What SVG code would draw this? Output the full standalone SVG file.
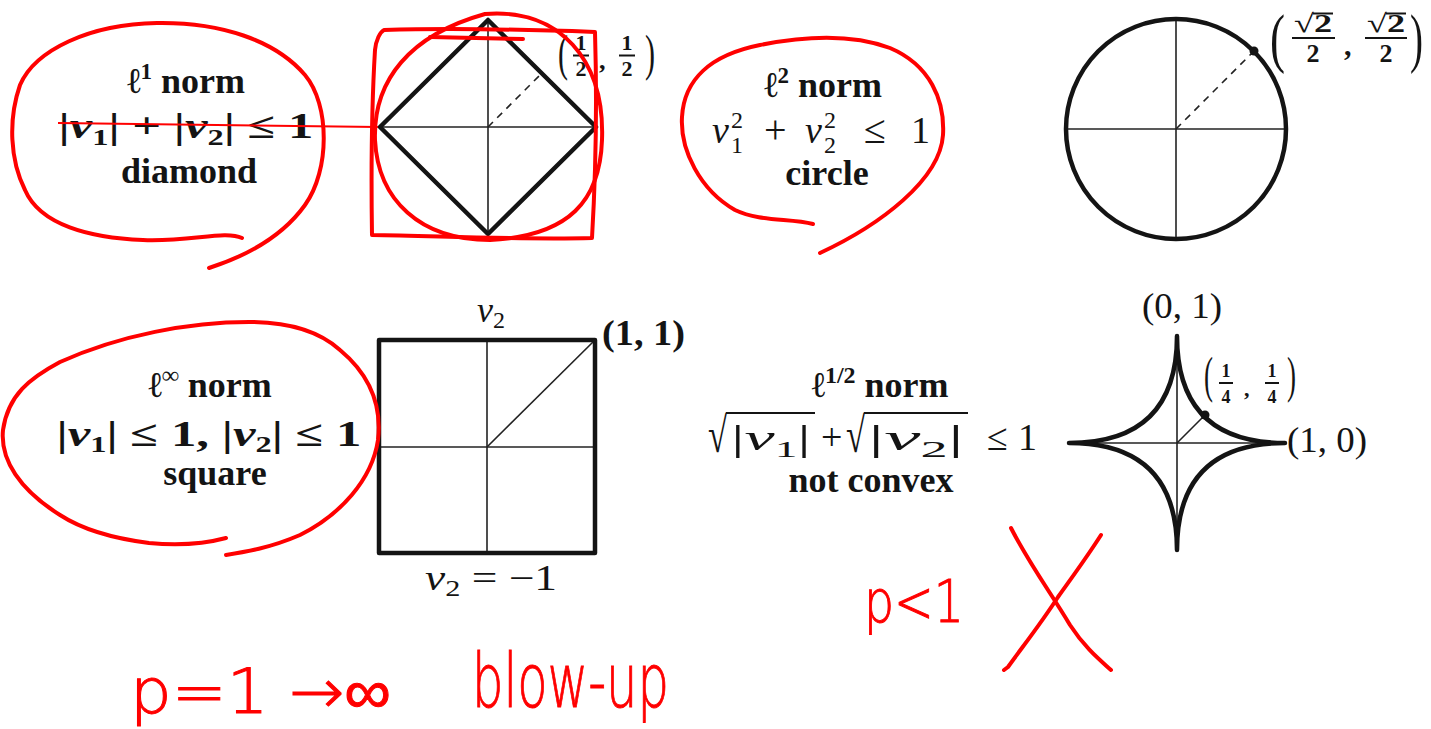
<svg xmlns="http://www.w3.org/2000/svg" width="1431" height="729" viewBox="0 0 1431 729">
<style>
.t{font-family:"Liberation Serif","DejaVu Serif",serif;fill:#141414}
.b{font-weight:bold}
.i{font-style:italic}
.hw{font-family:"DejaVu Sans ExtraLight","DejaVu Sans","Liberation Sans",sans-serif;font-weight:200;fill:#f00;stroke:#f00;stroke-width:1}
.red{fill:none;stroke:#f00;stroke-width:4;stroke-linecap:round;stroke-linejoin:round}
.thick{fill:none;stroke:#141414;stroke-width:4.5;stroke-linejoin:round}
.thin{fill:none;stroke:#222;stroke-width:1.6}
.dash{fill:none;stroke:#222;stroke-width:1.6;stroke-dasharray:7 6}
.bar{stroke:#141414;stroke-width:2}
</style>
<rect width="1431" height="729" fill="#fff"/>

<!-- l1 norm label -->
<g id="l1-label">
<text class="t b" x="186" y="93" text-anchor="middle" font-size="36">ℓ<tspan font-size="23" dy="-14">1</tspan><tspan dy="14"> norm</tspan></text>
<text class="t b" x="186" y="138" text-anchor="middle" font-size="36" textLength="255" lengthAdjust="spacingAndGlyphs">|<tspan class="i">v</tspan><tspan font-size="23" dy="7">1</tspan><tspan dy="-7">| + |</tspan><tspan class="i">v</tspan><tspan font-size="23" dy="7">2</tspan><tspan dy="-7">| ≤ 1</tspan></text>
<text class="t b" x="189" y="183" text-anchor="middle" font-size="36">diamond</text>
</g>

<!-- diamond -->
<g id="l1-diamond">
<line class="thin" x1="380" y1="127" x2="596" y2="127"/>
<line class="thin" x1="488" y1="20" x2="488" y2="234"/>
<line class="dash" x1="488" y1="127" x2="542" y2="73"/>
<polygon class="thick" points="380,127 488,20 596,127 488,234"/>
<text class="t" x="558" y="70" font-size="50" textLength="10" lengthAdjust="spacingAndGlyphs">(</text>
<text class="t b" x="581" y="50" font-size="22" text-anchor="middle">1</text>
<line class="bar" x1="573" y1="55.5" x2="589" y2="55.5"/>
<text class="t b" x="581" y="76" font-size="22" text-anchor="middle">2</text>
<text class="t b" x="599" y="69" font-size="26">,</text>
<text class="t b" x="627" y="50" font-size="22" text-anchor="middle">1</text>
<line class="bar" x1="619" y1="55.5" x2="635" y2="55.5"/>
<text class="t b" x="627" y="76" font-size="22" text-anchor="middle">2</text>
<text class="t" x="645" y="70" font-size="50" textLength="10" lengthAdjust="spacingAndGlyphs">)</text>
</g>

<!-- l2 norm label -->
<g id="l2-label">
<text class="t b" x="823" y="97" text-anchor="middle" font-size="36">ℓ<tspan font-size="23" dy="-14">2</tspan><tspan dy="14"> norm</tspan></text>
<text class="t i" x="712" y="143" font-size="38">v</text>
<text class="t" x="731" y="128" font-size="24">2</text>
<text class="t" x="731" y="153" font-size="24">1</text>
<text class="t" x="764" y="143" font-size="40">+</text>
<text class="t i" x="805" y="143" font-size="38">v</text>
<text class="t" x="824" y="128" font-size="24">2</text>
<text class="t" x="824" y="153" font-size="24">2</text>
<text class="t" x="864" y="143" font-size="40">≤</text>
<text class="t" x="911" y="143" font-size="38">1</text>
<text class="t b" x="827" y="185" text-anchor="middle" font-size="36">circle</text>
</g>

<!-- circle -->
<g id="l2-circle">
<line class="thin" x1="1066" y1="129" x2="1286" y2="129"/>
<line class="thin" x1="1176" y1="19" x2="1176" y2="239"/>
<line class="dash" x1="1176" y1="129" x2="1254" y2="51"/>
<circle class="thick" cx="1176" cy="129" r="110"/>
<circle cx="1254" cy="51" r="4.5" fill="#141414"/>
<text class="t" x="1270" y="60" font-size="66" textLength="15" lengthAdjust="spacingAndGlyphs">(</text>
<text class="t b" x="1313" y="32" font-size="26" text-anchor="middle" textLength="38" lengthAdjust="spacingAndGlyphs">√2</text>
<line class="bar" x1="1313" y1="13.5" x2="1333" y2="13.5"/>
<line class="bar" x1="1292" y1="38" x2="1335" y2="38" stroke-width="2.4"/>
<text class="t b" x="1313" y="62" font-size="26" text-anchor="middle">2</text>
<text class="t b" x="1344" y="55" font-size="30">,</text>
<text class="t b" x="1386" y="32" font-size="26" text-anchor="middle" textLength="38" lengthAdjust="spacingAndGlyphs">√2</text>
<line class="bar" x1="1386" y1="13.5" x2="1406" y2="13.5"/>
<line class="bar" x1="1365" y1="38" x2="1407" y2="38" stroke-width="2.4"/>
<text class="t b" x="1386" y="62" font-size="26" text-anchor="middle">2</text>
<text class="t" x="1410" y="60" font-size="66" textLength="13" lengthAdjust="spacingAndGlyphs">)</text>
</g>

<!-- l-infinity label -->
<g id="linf-label">
<text class="t b" x="210" y="397" text-anchor="middle" font-size="36">ℓ<tspan font-size="24" dy="-14">∞</tspan><tspan dy="14"> norm</tspan></text>
<text class="t b" x="209" y="446" text-anchor="middle" font-size="36" textLength="305" lengthAdjust="spacingAndGlyphs">|<tspan class="i">v</tspan><tspan font-size="23" dy="6">1</tspan><tspan dy="-6">| ≤ 1, |</tspan><tspan class="i">v</tspan><tspan font-size="23" dy="6">2</tspan><tspan dy="-6">| ≤ 1</tspan></text>
<text class="t b" x="215" y="485" text-anchor="middle" font-size="36">square</text>
</g>

<!-- square -->
<g id="linf-square">
<line class="thin" x1="379" y1="447" x2="595" y2="447"/>
<line class="thin" x1="487" y1="340" x2="487" y2="553"/>
<line class="thin" x1="487" y1="447" x2="595" y2="340"/>
<rect class="thick" x="379" y="340" width="216" height="213"/>
<text class="t i" x="477" y="322" font-size="36">v<tspan class="t" font-style="normal" font-size="24" dy="6">2</tspan></text>
<text class="t b" x="602" y="345" font-size="36" textLength="83" lengthAdjust="spacingAndGlyphs">(1, 1)</text>
<text class="t" x="425" y="590" font-size="36" textLength="132" lengthAdjust="spacingAndGlyphs"><tspan font-style="italic">v</tspan><tspan font-size="24" dy="6">2</tspan><tspan dy="-6"> = −1</tspan></text>
</g>

<!-- l 1/2 label -->
<g id="lhalf-label">
<text class="t b" x="880" y="397" text-anchor="middle" font-size="36">ℓ<tspan font-size="24" dy="-14">1/2</tspan><tspan dy="14"> norm</tspan></text>
<text class="t" x="708" y="452" font-size="50" textLength="19" lengthAdjust="spacingAndGlyphs">√</text>
<line class="bar" x1="726" y1="413" x2="815" y2="413" stroke-width="1.8"/>
<text class="t" x="731" y="450" font-size="36" textLength="80" lengthAdjust="spacingAndGlyphs">|<tspan font-style="italic">v</tspan><tspan font-size="24" dy="7">1</tspan><tspan dy="-7">|</tspan></text>
<text class="t" x="821" y="450" font-size="38">+</text>
<text class="t" x="846" y="452" font-size="50" textLength="19" lengthAdjust="spacingAndGlyphs">√</text>
<line class="bar" x1="864" y1="413" x2="968" y2="413" stroke-width="1.8"/>
<text class="t" x="868" y="450" font-size="36" textLength="96" lengthAdjust="spacingAndGlyphs">|<tspan font-style="italic">v</tspan><tspan font-size="24" dy="7">2</tspan><tspan dy="-7">|</tspan></text>
<text class="t" x="987" y="450" font-size="38">≤</text>
<text class="t" x="1018" y="450" font-size="38">1</text>
<text class="t b" x="871" y="492" text-anchor="middle" font-size="36">not convex</text>
</g>

<!-- astroid-like curve -->
<g id="lhalf-astroid">
<line class="thin" x1="1069" y1="443" x2="1285" y2="443"/>
<line class="thin" x1="1177" y1="336" x2="1177" y2="550"/>
<line class="thin" x1="1177" y1="443" x2="1205" y2="415"/>
<path class="thick" d="M1285,443 Q1177,443 1177,336 Q1177,443 1069,443 Q1177,443 1177,550 Q1177,443 1285,443 Z"/>
<circle cx="1205" cy="415" r="4.5" fill="#141414"/>
<text class="t" x="1182" y="318" font-size="36" text-anchor="middle" textLength="80" lengthAdjust="spacingAndGlyphs">(0, 1)</text>
<text class="t" x="1287" y="452" font-size="36" textLength="80" lengthAdjust="spacingAndGlyphs">(1, 0)</text>
<text class="t" x="1204" y="392" font-size="50" textLength="9" lengthAdjust="spacingAndGlyphs">(</text>
<text class="t b" x="1226" y="377" font-size="18" text-anchor="middle">1</text>
<line class="bar" x1="1219" y1="383" x2="1233" y2="383" stroke-width="1.6"/>
<text class="t b" x="1226" y="403" font-size="18" text-anchor="middle">4</text>
<text class="t b" x="1244" y="396" font-size="22">,</text>
<text class="t b" x="1272" y="377" font-size="18" text-anchor="middle">1</text>
<line class="bar" x1="1265" y1="383" x2="1279" y2="383" stroke-width="1.6"/>
<text class="t b" x="1272" y="403" font-size="18" text-anchor="middle">4</text>
<text class="t" x="1287" y="392" font-size="50" textLength="9" lengthAdjust="spacingAndGlyphs">)</text>
</g>

<!-- red connector line across the l1 label to the diamond -->
<g id="connectors">
<line x1="58" y1="123" x2="378" y2="127" stroke="#f00" stroke-width="2"/>
</g>

<!-- red handwritten annotations -->
<g id="annotations">
<path class="red" d="M242,238 C225,230 190,242 143,240 C90,238 40,225 25,190 C10,160 8,120 20,85 C35,50 90,24 157,23 C220,22 275,40 305,75 C330,105 330,170 305,205 C280,240 240,258 209,268"/>
<path class="red" stroke-width="5" d="M384,30 C450,28 540,30 595,32 C597,100 596,170 592,238 C520,240 440,236 372,235 C371,170 372,100 375,50 C376,40 380,32 384,30"/>
<path class="red" d="M430,37 L523,39"/>
<path class="red" d="M485,14 C560,8 605,60 602,140 C600,200 570,236 490,240 C420,240 378,200 375,140 C373,80 410,35 485,14"/>
<path class="red" d="M813,224 C790,218 760,222 735,210 C700,190 680,150 682,117 C684,80 710,55 760,45 C800,37 850,33 890,48 C930,65 945,100 943,135 C940,180 880,225 820,253"/>
<path class="red" d="M226,538 C200,545 170,545 149,543 C110,538 80,528 60,515 C20,490 0,460 3,430 C8,395 30,378 60,362 C120,335 190,322 249,322 C290,322 320,332 340,350 C370,375 382,405 378,440 C372,480 340,515 300,535 C270,548 245,552 226,555"/>
<path class="red" d="M1011,528 C1030,565 1051,593 1070,625 C1085,648 1100,660 1111,670"/>
<path class="red" d="M1101,535 C1085,560 1070,580 1058,597 C1040,625 1020,650 1008,667 L1004,670"/>
<text class="hw" x="864" y="622" font-size="58" textLength="100" lengthAdjust="spacingAndGlyphs">p&lt;1</text>
<text class="hw" x="130" y="713" font-size="62" textLength="261" lengthAdjust="spacingAndGlyphs">p=1 →∞</text>
<text class="hw" x="472" y="707" font-size="74" textLength="197" lengthAdjust="spacingAndGlyphs">blow-up</text>
</g>
</svg>
